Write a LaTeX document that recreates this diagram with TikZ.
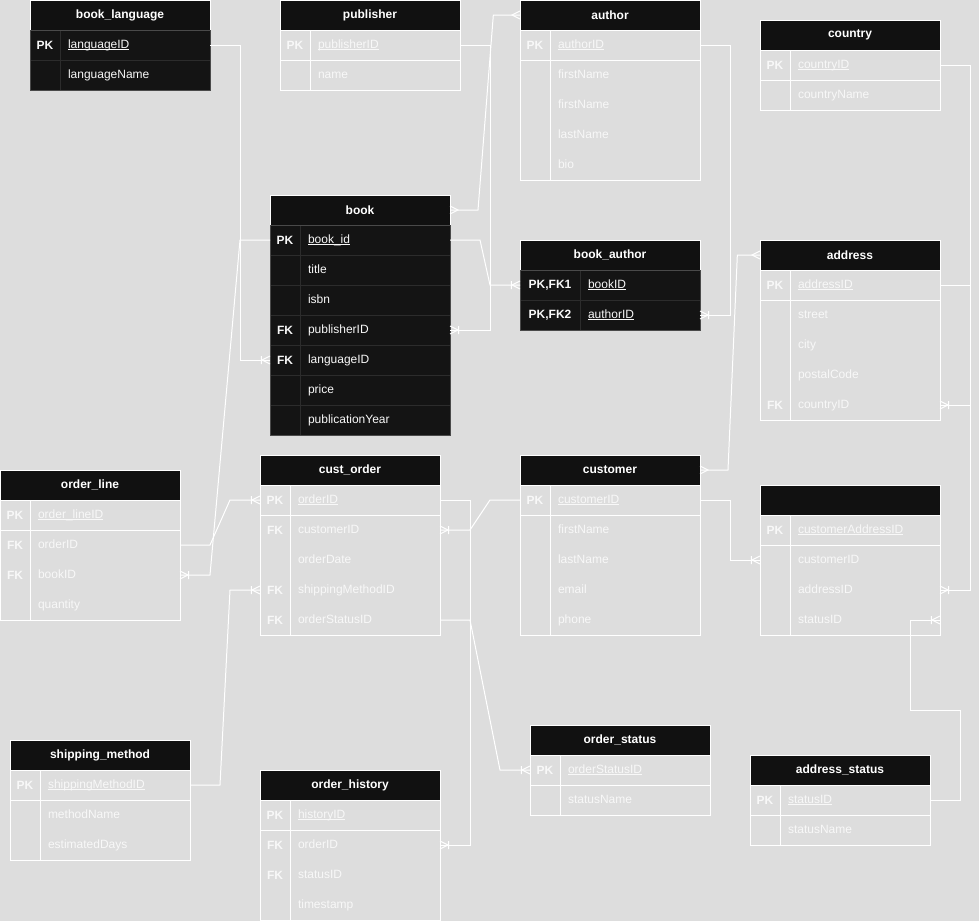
\documentclass[tikz,border=0pt]{standalone}
\usepackage{fontspec}
\setmainfont{Liberation Sans}
\usetikzlibrary{positioning}
\usetikzlibrary{decorations.markings}
\definecolor{erbg}{RGB}{221,221,221}
\definecolor{erhead}{RGB}{17,17,17}
\definecolor{erdark}{RGB}{20,20,20}
\definecolor{ergrid}{RGB}{44,44,44}
\definecolor{eredge}{RGB}{74,74,74}
\definecolor{ertext}{RGB}{248,248,248}
\newcommand{\pkname}[1]{{\setbox0\hbox{#1}\rlap{\rule[-1.4pt]{\wd0}{0.6pt}}\box0}}

\begin{document}
\begin{tikzpicture}[x=0.75pt,y=-0.75pt,
  hdr/.style={rectangle,fill=erhead,draw=white,line width=0.75pt,minimum width=135pt,
    minimum height=22.5pt,inner sep=0pt,outer sep=0pt,text=white,
    font=\fontsize{9}{11}\selectfont\bfseries},
  fld/.style={rectangle,text width=100.5pt,inner xsep=6pt,inner ysep=0pt,outer sep=0pt,
    minimum height=22.5pt,align=left,text=ertext,text height=7pt,text depth=2pt,
    font=\fontsize{9}{11}\selectfont},
  key/.style={rectangle,minimum width=22.5pt,minimum height=22.5pt,inner sep=0pt,
    outer sep=0pt,text=ertext,font=\fontsize{9}{11}\selectfont\bfseries},
  dfld/.style={fld,fill=erdark,draw=ergrid,line width=0.6pt},
  dkey/.style={key,fill=erdark,draw=ergrid,line width=0.6pt},
  tbl/.style={draw=white,line width=0.75pt},
  dtbl/.style={draw=eredge,line width=0.75pt},
  lnk/.style={draw=white,line width=0.75pt},
  crow/.style={postaction={decorate,decoration={markings,mark=at position 1 with
    {\draw[lnk] (0,3pt) -- (-6pt,0) -- (0,-3pt);}}}},
  crowbar/.style={postaction={decorate,decoration={markings,mark=at position 1 with
    {\draw[lnk] (0,3pt) -- (-6pt,0) -- (0,-3pt) (-6.5pt,3pt) -- (-6.5pt,-3pt);}}}},
  crowstart/.style={postaction={decorate,decoration={markings,mark=at position 0 with
    {\draw[lnk] (0,3pt) -- (6pt,0) -- (0,-3pt);}}}}
]
  \useasboundingbox (0,0) rectangle (979,921);
  \fill[erbg] (0,0) rectangle (979,921);

  % book_language
  \node[hdr] (bl) at (120,15) {book\_language};
  \node[dfld,anchor=north east] (bl-id) at (bl.south east) {\pkname{languageID}};
  \node[dfld,below=0pt of bl-id] (bl-name) {languageName};
  \node[dkey,left=0pt of bl-id] (bl-id-k) {PK};
  \node[dkey,left=0pt of bl-name] (bl-name-k) {};
  \draw[dtbl] (bl.south west) rectangle (bl-name.south east);

  % publisher
  \node[hdr] (pub) at (370,15) {publisher};
  \node[fld,anchor=north east] (pub-id) at (pub.south east) {\pkname{publisherID}};
  \node[fld,below=0pt of pub-id] (pub-name) {name};
  \node[key,left=0pt of pub-id] (pub-id-k) {PK};
  \draw[tbl] (pub.south west) rectangle (pub-name.south east);
  \draw[tbl] (pub-id.north west) -- (pub-name.south west);
  \draw[tbl] (pub-id.south west -| pub.west) -- (pub-id.south east);

  % author
  \node[hdr] (au) at (610,15) {author};
  \node[fld,anchor=north east] (au-id) at (au.south east) {\pkname{authorID}};
  \node[fld,below=0pt of au-id] (au-fn) {firstName};
  \node[fld,below=0pt of au-fn] (au-fn2) {firstName};
  \node[fld,below=0pt of au-fn2] (au-ln) {lastName};
  \node[fld,below=0pt of au-ln] (au-bio) {bio};
  \node[key,left=0pt of au-id] (au-id-k) {PK};
  \draw[tbl] (au.south west) rectangle (au-bio.south east);
  \draw[tbl] (au-id.north west) -- (au-bio.south west);
  \draw[tbl] (au-id.south west -| au.west) -- (au-id.south east);

  % country
  \node[hdr] (ctry) at (850,35) {country};
  \node[fld,anchor=north east] (ctry-id) at (ctry.south east) {\pkname{countryID}};
  \node[fld,below=0pt of ctry-id] (ctry-name) {countryName};
  \node[key,left=0pt of ctry-id] (ctry-id-k) {PK};
  \draw[tbl] (ctry.south west) rectangle (ctry-name.south east);
  \draw[tbl] (ctry-id.north west) -- (ctry-name.south west);
  \draw[tbl] (ctry-id.south west -| ctry.west) -- (ctry-id.south east);

  % book
  \node[hdr] (bk) at (360,210) {book};
  \node[dfld,anchor=north east] (bk-id) at (bk.south east) {\pkname{book\_id}};
  \node[dfld,below=0pt of bk-id] (bk-title) {title};
  \node[dfld,below=0pt of bk-title] (bk-isbn) {isbn};
  \node[dfld,below=0pt of bk-isbn] (bk-pub) {publisherID};
  \node[dfld,below=0pt of bk-pub] (bk-lang) {languageID};
  \node[dfld,below=0pt of bk-lang] (bk-price) {price};
  \node[dfld,below=0pt of bk-price] (bk-yr) {publicationYear};
  \node[dkey,left=0pt of bk-id] (bk-id-k) {PK};
  \node[dkey,left=0pt of bk-title] (bk-title-k) {};
  \node[dkey,left=0pt of bk-isbn] (bk-isbn-k) {};
  \node[dkey,left=0pt of bk-pub] (bk-pub-k) {FK};
  \node[dkey,left=0pt of bk-lang] (bk-lang-k) {FK};
  \node[dkey,left=0pt of bk-price] (bk-price-k) {};
  \node[dkey,left=0pt of bk-yr] (bk-yr-k) {};
  \draw[dtbl] (bk.south west) rectangle (bk-yr.south east);

  % book_author
  \node[hdr] (ba) at (610,255) {book\_author};
  \node[dfld,text width=78pt,anchor=north east] (ba-book) at (ba.south east) {\pkname{bookID}};
  \node[dfld,text width=78pt,below=0pt of ba-book] (ba-auth) {\pkname{authorID}};
  \node[dkey,minimum width=45pt,left=0pt of ba-book] (ba-book-k) {PK,FK1};
  \node[dkey,minimum width=45pt,left=0pt of ba-auth] (ba-auth-k) {PK,FK2};
  \draw[dtbl] (ba.south west) rectangle (ba-auth.south east);

  % address
  \node[hdr] (ad) at (850,255) {address};
  \node[fld,anchor=north east] (ad-id) at (ad.south east) {\pkname{addressID}};
  \node[fld,below=0pt of ad-id] (ad-street) {street};
  \node[fld,below=0pt of ad-street] (ad-city) {city};
  \node[fld,below=0pt of ad-city] (ad-code) {postalCode};
  \node[fld,below=0pt of ad-code] (ad-ctry) {countryID};
  \node[key,left=0pt of ad-id] (ad-id-k) {PK};
  \node[key,left=0pt of ad-ctry] (ad-ctry-k) {FK};
  \draw[tbl] (ad.south west) rectangle (ad-ctry.south east);
  \draw[tbl] (ad-id.north west) -- (ad-ctry.south west);
  \draw[tbl] (ad-id.south west -| ad.west) -- (ad-id.south east);

  % order_line
  \node[hdr] (ol) at (90,485) {order\_line};
  \node[fld,anchor=north east] (ol-id) at (ol.south east) {\pkname{order\_lineID}};
  \node[fld,below=0pt of ol-id] (ol-ord) {orderID};
  \node[fld,below=0pt of ol-ord] (ol-book) {bookID};
  \node[fld,below=0pt of ol-book] (ol-qty) {quantity};
  \node[key,left=0pt of ol-id] (ol-id-k) {PK};
  \node[key,left=0pt of ol-ord] (ol-ord-k) {FK};
  \node[key,left=0pt of ol-book] (ol-book-k) {FK};
  \draw[tbl] (ol.south west) rectangle (ol-qty.south east);
  \draw[tbl] (ol-id.north west) -- (ol-qty.south west);
  \draw[tbl] (ol-id.south west -| ol.west) -- (ol-id.south east);

  % cust_order
  \node[hdr] (ord) at (350,470) {cust\_order};
  \node[fld,anchor=north east] (ord-id) at (ord.south east) {\pkname{orderID}};
  \node[fld,below=0pt of ord-id] (ord-cust) {customerID};
  \node[fld,below=0pt of ord-cust] (ord-date) {orderDate};
  \node[fld,below=0pt of ord-date] (ord-ship) {shippingMethodID};
  \node[fld,below=0pt of ord-ship] (ord-stat) {orderStatusID};
  \node[key,left=0pt of ord-id] (ord-id-k) {PK};
  \node[key,left=0pt of ord-cust] (ord-cust-k) {FK};
  \node[key,left=0pt of ord-ship] (ord-ship-k) {FK};
  \node[key,left=0pt of ord-stat] (ord-stat-k) {FK};
  \draw[tbl] (ord.south west) rectangle (ord-stat.south east);
  \draw[tbl] (ord-id.north west) -- (ord-stat.south west);
  \draw[tbl] (ord-id.south west -| ord.west) -- (ord-id.south east);

  % customer
  \node[hdr] (cu) at (610,470) {customer};
  \node[fld,anchor=north east] (cu-id) at (cu.south east) {\pkname{customerID}};
  \node[fld,below=0pt of cu-id] (cu-fn) {firstName};
  \node[fld,below=0pt of cu-fn] (cu-ln) {lastName};
  \node[fld,below=0pt of cu-ln] (cu-mail) {email};
  \node[fld,below=0pt of cu-mail] (cu-tel) {phone};
  \node[key,left=0pt of cu-id] (cu-id-k) {PK};
  \draw[tbl] (cu.south west) rectangle (cu-tel.south east);
  \draw[tbl] (cu-id.north west) -- (cu-tel.south west);
  \draw[tbl] (cu-id.south west -| cu.west) -- (cu-id.south east);

  % customer address (no title)
  \node[hdr] (ca) at (850,500) {};
  \node[fld,anchor=north east] (ca-id) at (ca.south east) {\pkname{customerAddressID}};
  \node[fld,below=0pt of ca-id] (ca-cust) {customerID};
  \node[fld,below=0pt of ca-cust] (ca-addr) {addressID};
  \node[fld,below=0pt of ca-addr] (ca-stat) {statusID};
  \node[key,left=0pt of ca-id] (ca-id-k) {PK};
  \node[key,left=0pt of ca-cust] (ca-cust-k) {};
  \draw[tbl] (ca.south west) rectangle (ca-stat.south east);
  \draw[tbl] (ca-id.north west) -- (ca-stat.south west);
  \draw[tbl] (ca-id.south west -| ca.west) -- (ca-id.south east);

  % shipping_method
  \node[hdr] (sm) at (100,755) {shipping\_method};
  \node[fld,anchor=north east] (sm-id) at (sm.south east) {\pkname{shippingMethodID}};
  \node[fld,below=0pt of sm-id] (sm-name) {methodName};
  \node[fld,below=0pt of sm-name] (sm-days) {estimatedDays};
  \node[key,left=0pt of sm-id] (sm-id-k) {PK};
  \draw[tbl] (sm.south west) rectangle (sm-days.south east);
  \draw[tbl] (sm-id.north west) -- (sm-days.south west);
  \draw[tbl] (sm-id.south west -| sm.west) -- (sm-id.south east);

  % order_history
  \node[hdr] (oh) at (350,785) {order\_history};
  \node[fld,anchor=north east] (oh-id) at (oh.south east) {\pkname{historyID}};
  \node[fld,below=0pt of oh-id] (oh-ord) {orderID};
  \node[fld,below=0pt of oh-ord] (oh-stat) {statusID};
  \node[fld,below=0pt of oh-stat] (oh-time) {timestamp};
  \node[key,left=0pt of oh-id] (oh-id-k) {PK};
  \node[key,left=0pt of oh-ord] (oh-ord-k) {FK};
  \node[key,left=0pt of oh-stat] (oh-stat-k) {FK};
  \draw[tbl] (oh.south west) rectangle (oh-time.south east);
  \draw[tbl] (oh-id.north west) -- (oh-time.south west);
  \draw[tbl] (oh-id.south west -| oh.west) -- (oh-id.south east);

  % order_status
  \node[hdr] (os) at (620,740) {order\_status};
  \node[fld,anchor=north east] (os-id) at (os.south east) {\pkname{orderStatusID}};
  \node[fld,below=0pt of os-id] (os-name) {statusName};
  \node[key,left=0pt of os-id] (os-id-k) {PK};
  \draw[tbl] (os.south west) rectangle (os-name.south east);
  \draw[tbl] (os-id.north west) -- (os-name.south west);
  \draw[tbl] (os-id.south west -| os.west) -- (os-id.south east);

  % address_status
  \node[hdr] (as) at (840,770) {address\_status};
  \node[fld,anchor=north east] (as-id) at (as.south east) {\pkname{statusID}};
  \node[fld,below=0pt of as-id] (as-name) {statusName};
  \node[key,left=0pt of as-id] (as-id-k) {PK};
  \draw[tbl] (as.south west) rectangle (as-name.south east);
  \draw[tbl] (as-id.north west) -- (as-name.south west);
  \draw[tbl] (as-id.south west -| as.west) -- (as-id.south east);

  % relations
  \draw[lnk,crowbar] (bl-id.east) -- ++(30,0) |- (bk-lang-k.west);
  \draw[lnk,crowbar] (pub-id.east) -- ++(30,0) |- (bk-pub.east);
  \draw[lnk,crowstart,crow] (bk.east) -- ++(28,0) -- ([xshift=-20pt]au.west) -- (au.west);
  \draw[lnk,crowbar] (bk-id.east) -- ++(30,0) -- ([xshift=-22.5pt]ba-book-k.west) -- (ba-book-k.west);
  \draw[lnk,crowbar] (au-id.east) -- ++(30,0) |- (ba-auth.east);
  \draw[lnk,crowbar] (ctry-id.east) -- ++(30,0) |- (ad-ctry.east);
  \draw[lnk,crowbar] (ad-id.east) -- ++(30,0) |- (ca-addr.east);
  \draw[lnk,crowstart,crow] (cu.east) -- ++(28,0) -- ([xshift=-17pt]ad.west) -- (ad.west);
  \draw[lnk,crowbar] (cu-id.east) -- ++(30,0) |- (ca-cust-k.west);
  \draw[lnk,crowbar] (as-id.east) -- ++(30,0) -- ++(0,-90) -- ++(-50,0) |- (ca-stat.east);
  \draw[lnk,crowbar] (ol-ord.east) -- ++(30,0) -- ([xshift=-22.5pt]ord-id-k.west) -- (ord-id-k.west);
  \draw[lnk,crowbar] (bk-id-k.west) -- ++(-30,0) -- ([xshift=22.5pt]ol-book.east) -- (ol-book.east);
  \draw[lnk,crowbar] (cu-id-k.west) -- ++(-30,0) -- ([xshift=22.5pt]ord-cust.east) -- (ord-cust.east);
  \draw[lnk,crowbar] (ord-id.east) -- ++(30,0) |- (oh-ord.east);
  \draw[lnk,crowbar] (ord-stat.east) -- ++(30,0) -- ([xshift=-22.5pt]os-id-k.west) -- (os-id-k.west);
  \draw[lnk,crowbar] (sm-id.east) -- ++(30,0) -- ([xshift=-22.5pt]ord-ship-k.west) -- (ord-ship-k.west);
\end{tikzpicture}
\end{document}
